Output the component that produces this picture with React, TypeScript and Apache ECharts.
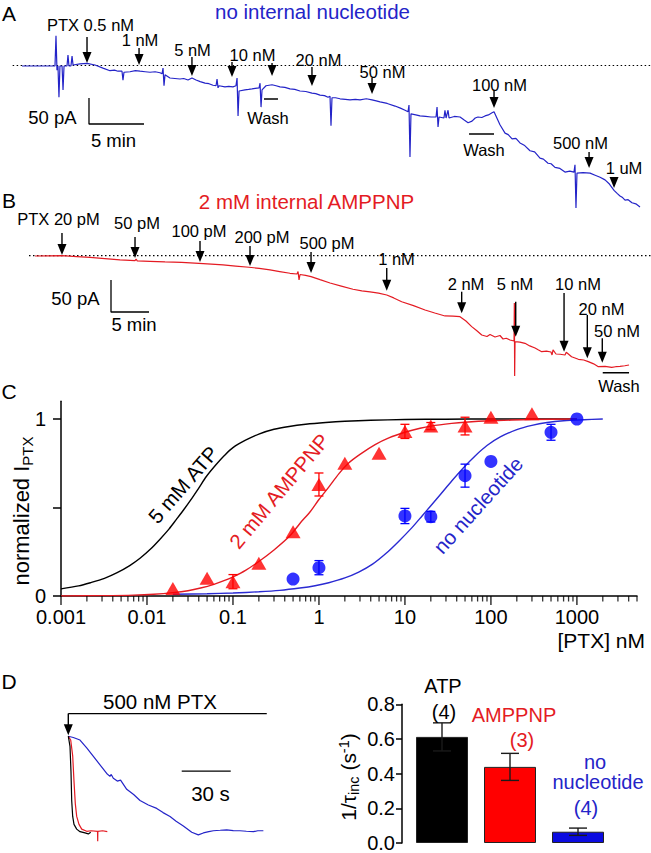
import React, { useEffect, useRef } from 'react';
import * as echarts from 'echarts';

const FONT = '"Liberation Sans", Arial, Helvetica, sans-serif';
const BLUE = '#2424c8';
const RED = '#e41b23';
const RED_M = '#ff0000';
const BLUE_M = '#0000ff';

// ---------------- Panel A : no internal nucleotide (time min, current pA) ----------------
const traceA = [
  [0, -1], [2.73, -1], [3.0, -1], [3.09, 57], [3.18, -9], [3.27, -1], [3.36, -61], [3.45, -1], [3.64, -1], [3.73, -47], [3.82, -1],
  [4.09, -1], [4.18, 20], [4.27, -1], [4.45, -1], [4.55, 18], [4.64, 1], [5.27, 3], [5.91, 4], [6.64, 1], [7.36, -5], [8.0, -10],
  [8.4, -9], [8.73, -11], [9.09, -11], [9.18, -28], [9.27, -13], [9.82, -12], [10.3, -10], [10.73, -11], [11.2, -12], [11.64, -13],
  [12.1, -12], [12.55, -14], [12.73, -16], [12.82, -5], [12.91, -39], [13.0, -18], [13.45, -24], [13.9, -25], [14.36, -26], [14.7, -25],
  [15.09, -28], [15.45, -24], [15.82, -28], [16.2, -31], [16.64, -34], [17.0, -35], [17.36, -38], [17.64, -39], [17.73, -26], [17.82, -43],
  [17.91, -39], [18.45, -41], [18.8, -40], [19.18, -41], [19.45, -39], [19.55, -24], [19.64, -97], [19.73, -49], [20.27, -47], [20.6, -46],
  [20.91, -45], [21.2, -44], [21.55, -43], [21.64, -34], [21.73, -80], [21.82, -47], [22.18, -39], [22.73, -37], [23.1, -39], [23.45, -41],
  [23.9, -42], [24.36, -45], [24.8, -46], [25.27, -49], [25.8, -50], [26.36, -53], [26.7, -54], [27.09, -57], [27.5, -58], [27.82, -61],
  [28.0, -59], [28.09, -116], [28.18, -62], [28.5, -62], [28.91, -64], [29.4, -65], [29.82, -66], [30.3, -65], [30.73, -66], [31.3, -64],
  [31.82, -66], [32.2, -68], [32.55, -70], [33.2, -73], [33.91, -78], [34.4, -82], [34.82, -86], [35.09, -89], [35.18, -76], [35.27, -176],
  [35.36, -93], [35.8, -95], [36.18, -97], [36.7, -98], [37.18, -99], [37.64, -99], [37.73, -80], [37.82, -118], [37.91, -99], [38.36, -101],
  [38.45, -86], [38.55, -101], [38.73, -86], [38.82, -101], [39.3, -98], [39.82, -99], [40.2, -105], [40.55, -110], [40.91, -107], [41.2, -101],
  [41.45, -99], [41.8, -100], [42.09, -97], [42.4, -95], [42.73, -91], [42.91, -89], [43.45, -114], [43.91, -130], [44.2, -133], [44.55, -141],
  [44.9, -140], [45.27, -149], [45.7, -154], [46.18, -164], [46.6, -166], [47.09, -178], [47.4, -180], [47.82, -188], [48.1, -189], [48.45, -196],
  [48.9, -198], [49.36, -205], [49.8, -203], [50.18, -205], [50.27, -191], [50.36, -274], [50.45, -207], [51.0, -206], [51.64, -207], [52.1, -211],
  [52.55, -215], [53.0, -220], [53.4, -228], [53.82, -240], [54.1, -246], [54.36, -251], [54.6, -254], [54.82, -259], [55.1, -258], [55.45, -264],
  [55.8, -266], [56.18, -272],
];
const baselineA = [[-0.85, 0], [57.18, 0]];
// [time, tip current, tail current]
const arrowsA = [
  [5.91, 4.8, 54.8], [10.64, 1, 33.7], [15.45, -20.2, 16.3], [19.09, -22.1, 6.7], [22.73, -20.2, 4.8],
  [26.36, -39.4, -2.9], [31.82, -54.8, -24], [42.91, -81.7, -48.1], [51.55, -197.1, -166.3], [53.82, -235.6, -214.4],
];
const washA = [
  [[22.0, -64.4], [23.27, -64.4]],
  [[40.64, -131.7], [42.91, -131.7]],
];
const scaleBarA = [[6.09, -62.5], [6.09, -112.5], [11.09, -112.5]]; // 50 pA, 5 min

// ---------------- Panel B : 2 mM internal AMPPNP ----------------
const traceB = [
  [0, -0.5], [3.55, 0], [5.5, -1.5], [7.24, -2.8], [9.2, -4.6], [11.18, -6.7], [13.16, -7.8], [13.3, -5.5], [13.45, -8], [15.1, -8.8],
  [17.11, -9.8], [19.3, -10.6], [21.58, -11.9], [23.2, -13.2], [24.74, -14.5], [26.4, -16.2], [28.16, -18.1], [29.5, -19.8], [30.92, -22.3],
  [32.2, -24.8], [33.55, -27.5], [34.47, -28.6], [34.61, -24.7], [34.74, -38], [34.87, -29.4], [35.6, -30.8], [36.32, -32.8], [37.5, -37.5],
  [38.82, -42.7], [40.3, -47.5], [41.84, -52.5], [43, -55], [44.08, -56.7], [45.2, -58.6], [46.28, -61.4], [47.2, -66], [48.25, -71.9],
  [49.8, -78], [51.32, -84.8], [52.6, -89.5], [53.95, -94.2], [55, -94.5], [55.92, -95.3], [56.7, -102], [57.46, -110.9], [58.1, -117],
  [58.78, -123.9], [59.47, -126.3], [59.87, -123.1], [60.53, -127], [61.18, -124.7], [61.58, -130.2], [62.0, -129], [62.5, -131.7],
  [63.03, -133.3], [63.07, -73.9], [63.11, -188], [63.16, -134.4], [63.8, -135], [64.47, -136.9], [65.1, -141], [65.79, -144.2],
  [66.2, -147], [66.67, -150], [67.3, -149], [67.89, -150.5], [68.03, -155.2], [68.16, -147.3], [68.55, -153.6], [69.1, -154],
  [69.74, -155.2], [69.9, -151], [70.6, -158], [71.49, -161.9], [72.2, -163], [72.8, -165.6], [73.5, -169], [74.12, -173.4], [75, -173],
  [75.88, -174.4], [76.4, -173.5], [76.97, -173.1], [77.6, -172], [78.16, -170.8],
];
const baselineB = [[-0.79, 0], [81.05, 0]];
const arrowsB = [
  [3.55, 1.1, 35.5], [13.16, -3.6, 29.2], [21.71, -9.8, 23], [28.29, -16.1, 15.2], [36.32, -27.0, 5.8], [46.28, -54.7, -19.2],
  [56.14, -90, -56.3], [63.25, -126.6, -71.9], [69.61, -150, -58.3], [72.67, -160.3, -92.7], [74.64, -167.2, -129.1],
];
const washB = [[74.7, -182.8], [78.16, -182.8]];
const scaleBarB = [[10, -38], [10, -88], [15, -88]]; // 50 pA, 5 min

// ---------------- Panel C : dose response ----------------
const majorTicks = [0.001, 0.01, 0.1, 1, 10, 100, 1000];
const minorTicks = [
  0.002, 0.003, 0.004, 0.005, 0.006, 0.007, 0.008, 0.009,
  0.02, 0.03, 0.04, 0.05, 0.06, 0.07, 0.08, 0.09,
  0.2, 0.3, 0.4, 0.5, 0.6, 0.7, 0.8, 0.9,
  2, 3, 4, 5, 6, 7, 8, 9,
  20, 30, 40, 50, 60, 70, 80, 90,
  200, 300, 400, 500, 600, 700, 800, 900,
  2000, 3000, 4000, 5000,
];
const ampConc = [0.02, 0.05, 0.1, 0.2, 0.5, 1, 2, 5, 10, 20, 50, 100, 300];
const ampResp = [0.043, 0.1, 0.081, 0.185, 0.363, 0.63, 0.75, 0.806, 0.93, 0.96, 0.96, 1.01, 1.03];
const ampErr = [0, 0, 0.04, 0, 0, 0.065, 0, 0, 0.04, 0.02, 0.05, 0, 0];
const noNucConc = [0.5, 1, 10, 20, 50, 100, 500, 1000];
const noNucResp = [0.096, 0.16, 0.452, 0.448, 0.68, 0.76, 0.925, 1.0];
const noNucErr = [0, 0.04, 0.043, 0.03, 0.065, 0, 0.045, 0];
const curveATP = [
  [0.001, 0.04], [0.0016, 0.057], [0.0022, 0.075], [0.0032, 0.1], [0.0045, 0.132], [0.0063, 0.172], [0.0083, 0.213],
  [0.011, 0.265], [0.014, 0.318], [0.018, 0.378], [0.022, 0.433], [0.027, 0.49], [0.032, 0.54], [0.04, 0.61], [0.049, 0.675],
  [0.063, 0.74], [0.08, 0.795], [0.1, 0.838], [0.14, 0.88], [0.2, 0.915], [0.3, 0.942], [0.45, 0.958], [0.7, 0.97], [1.2, 0.98],
  [2, 0.987], [4, 0.993], [10, 0.997], [30, 0.999], [100, 1.0], [1000, 1.0],
];
const curveAMP = [
  [0.001, 0.0], [0.003, 0.002], [0.007, 0.005], [0.012, 0.01], [0.02, 0.019], [0.03, 0.03], [0.042, 0.045], [0.06, 0.066],
  [0.08, 0.088], [0.1, 0.108], [0.14, 0.145], [0.2, 0.195], [0.3, 0.26], [0.46, 0.34], [0.6, 0.41], [0.79, 0.476], [1.0, 0.545],
  [1.3, 0.615], [1.7, 0.69], [2.2, 0.75], [3, 0.8], [4.5, 0.855], [6.5, 0.893], [10, 0.925], [15, 0.948], [20, 0.96], [35, 0.975],
  [50, 0.982], [100, 0.99], [300, 0.997], [1000, 1.0],
];
const curveNoNuc = [
  [0.02, 0.01], [0.05, 0.013], [0.1, 0.017], [0.2, 0.024], [0.35, 0.032], [0.6, 0.045], [0.9, 0.058], [1.3, 0.075], [2, 0.102],
  [2.9, 0.135], [4.2, 0.18], [6, 0.24], [8.5, 0.31], [12, 0.385], [16, 0.455], [20, 0.51], [26, 0.575], [35, 0.65], [48, 0.725],
  [65, 0.79], [90, 0.85], [130, 0.9], [200, 0.94], [300, 0.964], [450, 0.98], [700, 0.99], [1200, 0.996], [2000, 1.0],
];

// ---------------- Panel D : kinetics (time s, normalized current) ----------------
const traceD_ATP = [
  [0, 0], [1.04, -0.107], [1.65, -0.373], [2.08, -0.673], [2.69, -0.84], [3.49, -0.923], [5.14, -0.973], [7.16, -1.0],
  [10.23, -1.013], [12.25, -1.023], [13.72, -1.006],
];
const traceD_AMP = [
  [0, 0], [1.47, -0.04], [2.69, -0.206], [3.49, -0.473], [4.29, -0.706], [5.14, -0.84], [6.55, -0.923], [8.21, -0.973],
  [11.27, -0.996], [14, -0.99], [17.9, -0.996], [18.0, -1.1], [18.1, -0.996], [21, -0.99], [23.88, -1.0],
];
const traceD_noNuc = [
  [0, 0], [3.06, -0.013], [7.16, -0.04], [11.27, -0.123], [17.39, -0.256], [23.51, -0.39], [25.5, -0.42], [26.3, -0.4],
  [27.55, -0.44], [30, -0.47], [32, -0.46], [35.76, -0.556], [40, -0.61], [43.91, -0.673], [49, -0.72], [54.13, -0.756],
  [58, -0.8], [62.28, -0.84], [66, -0.89], [70.42, -0.94], [75.56, -1.006], [79.6, -1.033], [82.67, -1.013], [86, -1.0],
  [88.79, -0.99], [93, -0.985], [96.99, -0.98], [101, -0.988], [105.14, -0.99], [109, -0.995], [113.3, -1.0], [116, -0.99],
  [119.42, -0.99],
];
const ptxBarD = [[0, 0.237], [121.5, 0.237]];
const ptxArrowD = [[0, 0.01, 0.237]];
const scaleBarD = [[69.44, -0.366], [99.44, -0.366]]; // 30 s

const barCategories = ['ATP', 'AMPPNP', 'no nucleotide'];
const barValues = [0.612, 0.439, 0.065];
const barErrors = [0.081, 0.078, 0.021];
const barColors = ['#000000', '#ff0000', '#0b0be0'];
const barTicks = [0, 0.2, 0.4, 0.6, 0.8];

// ---------------- helpers ----------------
const HEAD_LEN = 11;
const HEAD_HALF = 4.5;

function renderArrow(_p: any, api: any) {
  const x = api.value(0);
  const tip = api.coord([x, api.value(1)]);
  const top = api.coord([x, api.value(2)]);
  return {
    type: 'group',
    children: [
      { type: 'line', shape: { x1: tip[0], y1: top[1], x2: tip[0], y2: tip[1] - HEAD_LEN + 2 }, style: { stroke: '#000', lineWidth: 1.4 } },
      {
        type: 'polygon',
        shape: { points: [[tip[0] - HEAD_HALF, tip[1] - HEAD_LEN], [tip[0] + HEAD_HALF, tip[1] - HEAD_LEN], [tip[0], tip[1]]] },
        style: { fill: '#000' },
      },
    ],
  };
}

function makeErrRender(capHalf: number, color: string, width: number) {
  return (_p: any, api: any) => {
    const x = api.value(0);
    const y = api.value(1);
    const e = api.value(2);
    const hi = api.coord([x, y + e]);
    const lo = api.coord([x, y - e]);
    return {
      type: 'group',
      children: [
        { type: 'line', shape: { x1: hi[0], y1: hi[1], x2: lo[0], y2: lo[1] }, style: { stroke: color, lineWidth: width } },
        { type: 'line', shape: { x1: hi[0] - capHalf, y1: hi[1], x2: hi[0] + capHalf, y2: hi[1] }, style: { stroke: color, lineWidth: width } },
        { type: 'line', shape: { x1: lo[0] - capHalf, y1: lo[1], x2: lo[0] + capHalf, y2: lo[1] }, style: { stroke: color, lineWidth: width } },
      ],
    };
  };
}

const lineS = (idx: number, data: any[], color: string, width: number, extra: any = {}) => ({
  type: 'line',
  xAxisIndex: idx,
  yAxisIndex: idx,
  data,
  symbol: 'none',
  showSymbol: false,
  silent: true,
  lineStyle: { color, width },
  z: 2,
  ...extra,
});

const arrowS = (idx: number, data: any[]) => ({
  type: 'custom',
  xAxisIndex: idx,
  yAxisIndex: idx,
  data,
  silent: true,
  clip: false,
  z: 5,
  renderItem: renderArrow,
});

const txt = (text: string, x: number, y: number, size: number, color = '#000', align = 'center', rotationDeg = 0) => ({
  type: 'text',
  x,
  y,
  rotation: (rotationDeg * Math.PI) / 180,
  silent: true,
  z: 10,
  style: { text, fill: color, fontSize: size, fontFamily: FONT, align, verticalAlign: 'middle' },
});

function logLabel(v: number) {
  const e = Math.log10(v);
  const k = Math.round(e);
  if (Math.abs(e - k) > 1e-6) return '';
  return k < 0 ? Math.pow(10, k).toFixed(-k) : String(Math.round(Math.pow(10, k)));
}

function buildOption() {
  const axisBlack = { color: '#000', width: 1.5 };
  const labelsA: [string, number, number][] = [
    ['PTX 0.5 nM', 90.5, 24.5], ['1 nM', 140, 39.5], ['5 nM', 192.5, 49.5], ['10 nM', 252.5, 54.5], ['20 nM', 318.5, 59.5],
    ['50 nM', 382.5, 71.5], ['100 nM', 499.5, 84.5], ['500 nM', 580.5, 142.5], ['1 uM', 624, 167.5], ['Wash', 268, 117.5],
    ['Wash', 484, 149.5],
  ];
  const labelsB: [string, number, number][] = [
    ['PTX 20 pM', 58.5, 218.5], ['50 pM', 137, 223], ['100 pM', 199, 231.3], ['200 pM', 262, 237.3], ['500 pM', 327, 243.3],
    ['1 nM', 396.5, 259.3], ['2 nM', 466, 284.3], ['5 nM', 515, 284.3], ['10 nM', 578, 284.3], ['20 nM', 601.5, 309.3],
    ['50 nM', 617, 331.3], ['Wash', 619, 386.3],
  ];

  const graphic: any[] = [
    txt('A', 9, 13.5, 21),
    txt('no internal nucleotide', 312.5, 11, 20.5, BLUE),
    ...labelsA.map(([t, x, y]) => txt(t, x, y, 16.5)),
    txt('50 pA', 52.5, 117, 18.5),
    txt('5 min', 113.5, 140, 18.5),
    txt('B', 9, 200, 21),
    txt('2 mM internal AMPPNP', 306.5, 201.5, 20.5, RED),
    ...labelsB.map(([t, x, y]) => txt(t, x, y, 16.5)),
    txt('50 pA', 75.5, 298.8, 18.5),
    txt('5 min', 134, 324, 18.5),
    txt('C', 9, 391, 21),
    txt('[PTX] nM', 645, 640, 21, '#000', 'right'),
    txt('5 mM ATP', 183, 484.5, 20.5, '#000', 'center', 49),
    txt('2 mM AMPPNP', 279, 491, 20.5, RED, 'center', 50),
    txt('no nucleotide', 478, 505, 20.5, BLUE, 'center', 48),
    {
      type: 'text',
      x: 21,
      y: 511,
      rotation: Math.PI / 2,
      silent: true,
      z: 10,
      style: {
        text: '{m|normalized I}{s|PTX}',
        fill: '#000',
        fontSize: 22,
        fontFamily: FONT,
        align: 'center',
        verticalAlign: 'middle',
        rich: {
          m: { fontSize: 22, fontFamily: FONT, fill: '#000' },
          s: { fontSize: 15, fontFamily: FONT, fill: '#000', padding: [12, 0, 0, 0] },
        },
      },
    },
    txt('D', 9, 681, 21),
    txt('500 nM PTX', 160, 701, 20.5),
    txt('30 s', 210.5, 793, 20.5),
    txt('ATP', 443, 686, 20),
    txt('(4)', 444, 712, 20),
    txt('AMPPNP', 514, 715, 20, RED),
    txt('(3)', 522, 740, 20, RED),
    txt('no', 595, 761.5, 20, BLUE),
    txt('nucleotide', 598, 782, 20, BLUE),
    txt('(4)', 586, 808, 20, BLUE),
    {
      type: 'text',
      x: 348.5,
      y: 777,
      rotation: Math.PI / 2,
      silent: true,
      z: 10,
      style: {
        text: '{m|1/\u03c4}{s|inc}{m| (s}{p|-1}{m|)}',
        fill: '#000',
        fontSize: 21,
        fontFamily: FONT,
        align: 'center',
        verticalAlign: 'middle',
        rich: {
          m: { fontSize: 21, fontFamily: FONT, fill: '#000' },
          s: { fontSize: 14.5, fontFamily: FONT, fill: '#000', padding: [10, 0, 0, 0] },
          p: { fontSize: 14.5, fontFamily: FONT, fill: '#000', padding: [0, 0, 10, 0] },
        },
      },
    },
  ];

  const ampPts = ampConc.map((c, i) => [c, ampResp[i]]);
  const noNucPts = noNucConc.map((c, i) => [c, noNucResp[i]]);
  const ampErrPts = ampConc.map((c, i) => [c, ampResp[i], ampErr[i]]).filter((d) => d[2] > 0);
  const noNucErrPts = noNucConc.map((c, i) => [c, noNucResp[i], noNucErr[i]]).filter((d) => d[2] > 0);

  const series: any[] = [
    // Panel A
    lineS(0, baselineA, '#000', 1.2, { lineStyle: { color: '#000', width: 1.2, type: [1.5, 2.5] } }),
    lineS(0, traceA, BLUE, 1.2),
    arrowS(0, arrowsA),
    ...washA.map((w) => lineS(0, w, '#000', 1.5)),
    lineS(0, scaleBarA, '#000', 1.3),
    // Panel B
    lineS(1, baselineB, '#000', 1.2, { lineStyle: { color: '#000', width: 1.2, type: [1.5, 2.5] } }),
    lineS(1, traceB, RED, 1.2),
    arrowS(1, arrowsB),
    lineS(1, washB, '#000', 1.5),
    lineS(1, scaleBarB, '#000', 1.3),
    // Panel C
    lineS(2, curveATP, '#000', 1.4, { smooth: 0.3 }),
    lineS(2, curveAMP, RED, 1.4, { smooth: 0.3 }),
    lineS(2, curveNoNuc, '#2a2ad2', 1.4, { smooth: 0.3 }),
    {
      type: 'custom', xAxisIndex: 2, yAxisIndex: 2, data: ampErrPts, silent: true, z: 3,
      renderItem: makeErrRender(4.5, RED_M, 1.3),
    },
    {
      type: 'custom', xAxisIndex: 2, yAxisIndex: 2, data: noNucErrPts, silent: true, z: 3,
      renderItem: makeErrRender(4.5, BLUE_M, 1.3),
    },
    {
      type: 'scatter', xAxisIndex: 2, yAxisIndex: 2, data: ampPts, symbol: 'triangle', symbolSize: [15, 13],
      itemStyle: { color: RED_M }, silent: true, z: 4,
    },
    {
      type: 'scatter', xAxisIndex: 2, yAxisIndex: 2, data: noNucPts, symbol: 'circle', symbolSize: 13,
      itemStyle: { color: BLUE_M }, silent: true, z: 4,
    },
    {
      type: 'scatter', xAxisIndex: 2, yAxisIndex: 2, data: majorTicks.map((v) => [v, 0]), symbol: 'rect',
      symbolSize: [1.5, 9], symbolOffset: [0, 4.5], itemStyle: { color: '#000' }, silent: true, clip: false, z: 6,
    },
    {
      type: 'scatter', xAxisIndex: 2, yAxisIndex: 2, data: minorTicks.map((v) => [v, 0]), symbol: 'rect',
      symbolSize: [1.3, 5.5], symbolOffset: [0, 2.75], itemStyle: { color: '#000' }, silent: true, clip: false, z: 6,
    },
    // Panel D traces
    lineS(3, traceD_noNuc, BLUE, 1.2),
    lineS(3, traceD_AMP, RED, 1.2),
    lineS(3, traceD_ATP, '#000', 1.2),
    lineS(3, ptxBarD, '#000', 1.4),
    arrowS(3, ptxArrowD),
    lineS(3, scaleBarD, '#000', 1.4),
    // Panel D bars
    {
      type: 'bar', xAxisIndex: 4, yAxisIndex: 4, barWidth: 52, silent: true, z: 2,
      data: barValues.map((v, i) => ({ value: v, itemStyle: { color: barColors[i] } })),
      itemStyle: { borderColor: '#222', borderWidth: 1 },
    },
    {
      type: 'custom', xAxisIndex: 4, yAxisIndex: 4, silent: true, z: 3,
      data: barValues.map((v, i) => [i, v, barErrors[i]]),
      renderItem: makeErrRender(9, '#1a1a1a', 1.4),
    },
  ];

  return {
    animation: false,
    backgroundColor: '#ffffff',
    textStyle: { fontFamily: FONT },
    grid: [
      { left: 0, width: 651, top: 5.7, height: 208 },
      { left: 0, width: 651, top: 200, height: 192 },
      { left: 61, width: 576, top: 401.3, height: 194.7 },
      { left: 60, width: 220, top: 705, height: 155 },
      { left: 408, width: 204, top: 704.3, height: 141.7 },
    ],
    xAxis: [
      { gridIndex: 0, type: 'value', min: -2, max: 57.18, show: false },
      { gridIndex: 1, type: 'value', min: -4.605, max: 81.05, show: false },
      {
        gridIndex: 2, type: 'log', logBase: 10, min: 0.001, max: 5000, splitNumber: 7,
        axisLine: { show: true, lineStyle: axisBlack },
        axisTick: { show: false },
        splitLine: { show: false },
        minorTick: { show: false },
        axisLabel: { formatter: logLabel, fontSize: 20, color: '#000', margin: 11, fontFamily: FONT, showMaxLabel: true, hideOverlap: false },
      },
      { gridIndex: 3, type: 'value', min: -5.08, max: 129.6, show: false },
      { gridIndex: 4, type: 'category', data: barCategories, show: false, boundaryGap: true },
    ],
    yAxis: [
      { gridIndex: 0, type: 'value', min: -285, max: 115, show: false },
      { gridIndex: 1, type: 'value', min: -213, max: 87, show: false },
      {
        gridIndex: 2, type: 'value', min: 0, max: 1.1,
        axisLine: { show: true, lineStyle: axisBlack },
        axisTick: { show: true, length: 8, lineStyle: axisBlack, customValues: [0, 0.5, 1] },
        axisLabel: { customValues: [0, 1], fontSize: 20, color: '#000', margin: 15, fontFamily: FONT },
        splitLine: { show: false },
      },
      { gridIndex: 3, type: 'value', min: -1.223, max: 0.327, show: false },
      {
        gridIndex: 4, type: 'value', min: 0, max: 0.8, interval: 0.2, offset: 6,
        axisLine: { show: true, lineStyle: axisBlack },
        axisTick: { show: true, length: 6, lineStyle: axisBlack, customValues: barTicks },
        axisLabel: {
          customValues: barTicks, formatter: (v: number) => v.toFixed(1), fontSize: 20, color: '#000', margin: 7, fontFamily: FONT,
        },
        splitLine: { show: false },
      },
    ],
    graphic,
    series,
  };
}

export default function App() {
  const ref = useRef<HTMLDivElement>(null);
  useEffect(() => {
    if (!ref.current) return;
    const chart = echarts.init(ref.current, null, { renderer: 'svg' });
    chart.setOption(buildOption() as any);
    return () => {
      chart.dispose();
    };
  }, []);
  return (
    <div
      ref={ref}
      style={{ width: 651, height: 853, position: 'absolute', left: 0, top: 0, background: '#fff' }}
    />
  );
}
